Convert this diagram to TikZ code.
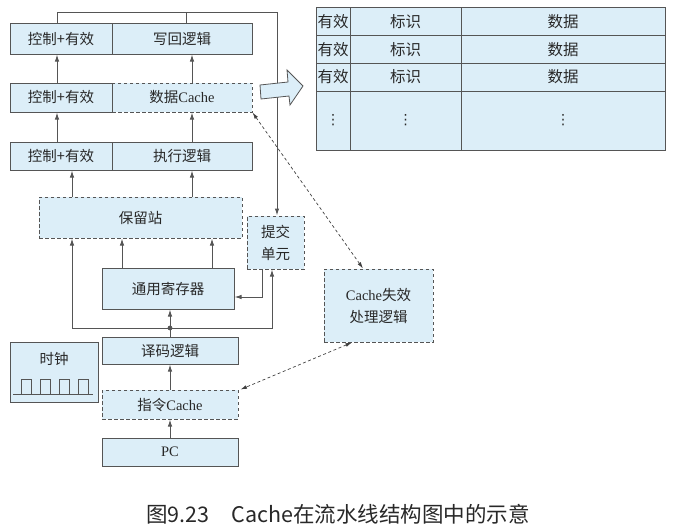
\documentclass[tikz,border=0pt]{standalone}
\usepackage{fontspec}
\setmainfont{Liberation Serif}
\newfontfamily\cjk{Noto Sans CJK SC}
\newfontfamily\dvs{DejaVu Sans}
\usetikzlibrary{arrows.meta}
\definecolor{boxfill}{RGB}{220,238,248}
\definecolor{linec}{RGB}{85,85,85}
\definecolor{txt}{RGB}{40,40,40}
\begin{document}
\begin{tikzpicture}[x=1pt,y=-1pt,
 box/.style={draw=linec, fill=boxfill, line width=1pt, inner sep=0pt, text=txt, font=\fontsize{14.5}{22}\selectfont, align=center},
 dbox/.style={box, dash pattern=on 3.5pt off 2.5pt},
 arr/.style={draw=linec, line width=1pt, -{Latex[length=7pt,width=4.5pt]}},
 ln/.style={draw=linec, line width=1pt},
 darr/.style={draw=black!75, line width=0.7pt, dash pattern=on 3pt off 2.5pt, {Latex[length=6.5pt,width=3.8pt]}-{Latex[length=6.5pt,width=3.8pt]}},
 ttext/.style={text=txt, font=\fontsize{15.5}{18}\selectfont\cjk, inner sep=0pt},
 dtext/.style={text=txt, font=\fontsize{14}{16}\selectfont\dvs, inner sep=0pt}]
\useasboundingbox (0,0) rectangle (676,527);

% pipeline rows
\node[box, minimum width=140pt, minimum height=30pt] (wb) at (182,39) {\cjk 写回逻辑};
\node[box, minimum width=102pt, minimum height=30pt] (c1) at (61,39) {\cjk 控制+有效};
\node[dbox, minimum width=140pt, minimum height=29pt] (dc) at (182,97.5) {{\cjk 数据}Cache};
\node[box, minimum width=102pt, minimum height=29pt] (c2) at (61,97.5) {\cjk 控制+有效};
\node[box, minimum width=140pt, minimum height=28pt] (ex) at (182,156) {\cjk 执行逻辑};
\node[box, minimum width=102pt, minimum height=28pt] (c3) at (61,156) {\cjk 控制+有效};

\node[dbox, minimum width=203pt, minimum height=41pt] (rs) at (140.5,217.5) {\cjk 保留站};
\node[dbox, minimum width=57pt, minimum height=53pt] (cu) at (275.5,242.5) {\cjk 提交\\\cjk 单元};
\node[box, minimum width=132pt, minimum height=41pt] (gr) at (168,288.5) {\cjk 通用寄存器};
\node[box, minimum width=136pt, minimum height=27pt] (dec) at (170,350.5) {\cjk 译码逻辑};
\node[dbox, minimum width=136pt, minimum height=29pt] (ic) at (170,404.5) {{\cjk 指令}Cache};
\node[box, minimum width=136pt, minimum height=28pt] (pc) at (170,452) {PC};
\node[dbox, minimum width=109pt, minimum height=73pt] (miss) at (378.5,305.5) {Cache{\cjk 失效}\\\cjk 处理逻辑};

% clock
\node[box, minimum width=88pt, minimum height=60pt] (clk) at (54,372) {};
\node[text=txt, font=\fontsize{14.5}{17}\selectfont\cjk, inner sep=0pt] (clkt) at (54,359) {时钟};
\draw[ln] (13,394) -- (93,394);
\foreach \a in {21,40,59,78} {
  \draw[ln] (\a,394) -- (\a,379) -- (\a+10.5,379) -- (\a+10.5,394);
}

% vertical arrows in pipeline
\draw[arr] (57,0 |- c3.north) -- (57,0 |- c2.south);
\draw[arr] (57,0 |- c2.north) -- (57,0 |- c1.south);
\draw[arr] (192,0 |- ex.north) -- (192,0 |- dc.south);
\draw[arr] (192,0 |- dc.north) -- (192,0 |- wb.south);
\draw[arr] (72,0 |- rs.north) -- (72,0 |- c3.south);
\draw[arr] (192,0 |- rs.north) -- (192,0 |- ex.south);

% top loop to commit unit
\draw[arr] (57,0 |- c1.north) |- (277,13) -- (277,0 |- cu.north);
\draw[ln] (186,0 |- wb.north) -- (186,13);

% register file to reservation station
\draw[arr] (122,0 |- gr.north) -- (122,0 |- rs.south);
\draw[arr] (212,0 |- gr.north) -- (212,0 |- rs.south);

% bus
\coordinate (dot) at (170,328);
\draw[ln] (dec.north) -- (dot);
\draw[arr] (dot) -- (170,0 |- gr.south);
\draw[arr] (dot) -| (72,0 |- rs.south);
\draw[arr] (dot) -| (272,0 |- cu.south);
\fill[linec] (dot) circle (2.4pt);
\draw[arr] (262,0 |- cu.south) |- (gr.east |- 0,297);

\draw[arr] (ic.north) -- (dec.south);
\draw[arr] (pc.north) -- (ic.south);

% dashed links
\draw[darr] (dc.south east) -- (363,0 |- miss.north);
\draw[darr] (352,0 |- miss.south) -- ([xshift=2pt]ic.north east);

% big hollow arrow
\draw[draw=linec, fill=boxfill, line width=0.8pt, line join=miter]
  (260,85) -- (288,82) -- (287,70) -- (303,86) -- (290,105) -- (289,96) -- (261,99) -- cycle;

% table
\draw[draw=linec, fill=boxfill, line width=1pt] (316,8) rectangle (665,150);
\draw[ln] (316,36) -- (665,36) (316,63) -- (665,63) (316,91) -- (665,91)
          (350,8) -- (350,150) (461,8) -- (461,150);
\node[ttext] (v1) at (333,22) {有效};
\node[ttext] (t1) at (405.5,22) {标识};
\node[ttext] (d1) at (563,22) {数据};
\node[ttext] (v2) at (333,49.5) {有效};
\node[ttext] (t2) at (405.5,49.5) {标识};
\node[ttext] (d2) at (563,49.5) {数据};
\node[ttext] (v3) at (333,77) {有效};
\node[ttext] (t3) at (405.5,77) {标识};
\node[ttext] (d3) at (563,77) {数据};
\node[dtext] (v4) at (333,120.5) {⋮};
\node[dtext] (t4) at (405.5,120.5) {⋮};
\node[dtext] (d4) at (563,120.5) {⋮};

% caption
\node[text=txt, font=\fontsize{21.5}{24}\selectfont\cjk, inner sep=0pt] (cap) at (338,514) {图9.23\hspace{22pt}Cache在流水线结构图中的示意};
\end{tikzpicture}
\end{document}
